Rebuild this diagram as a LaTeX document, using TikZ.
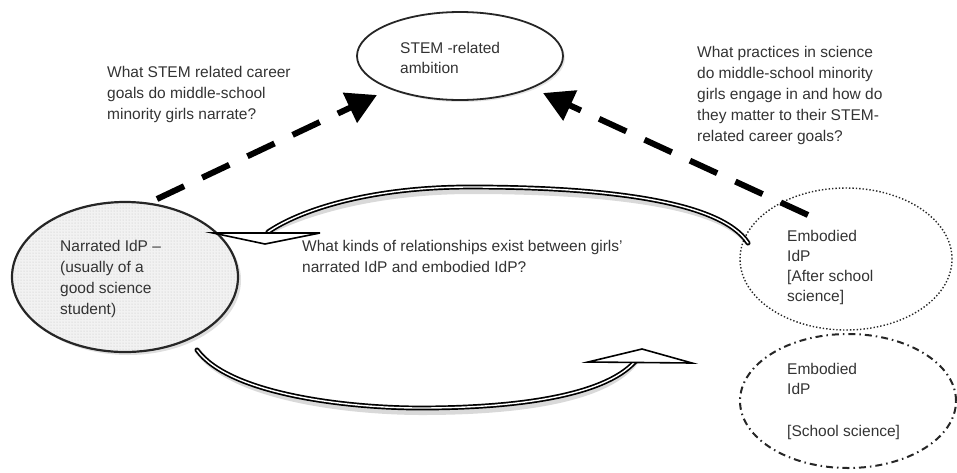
\documentclass[tikz,border=0pt]{standalone}
\usepackage{fontspec}
\setmainfont{Liberation Sans}
\usetikzlibrary{arrows.meta,patterns,shadows,shapes.geometric}
\begin{document}
\begin{tikzpicture}[x=1pt,y=-1pt,
  txt/.style={font=\fontsize{15.5}{21}\selectfont, align=left, inner sep=0pt, anchor=north west, text=black!80},
  txtb/.style={txt, font=\fontsize{15.5}{20}\selectfont},
  ell/.style={ellipse, draw=black!85, inner sep=0pt},
  dasharrow/.style={line width=6pt, dash pattern=on 30pt off 20pt, -{Triangle[length=30pt,width=32pt]}},
  hollow/.style={draw=black, line width=1.7pt, double=white, double distance=1.4pt, line cap=round},
  shadowline/.style={draw=black, opacity=0.15, line width=6pt, line cap=round},
  headshape/.style={draw=black, line width=1.6pt, fill=white, line join=miter}
]
\useasboundingbox (0,0) rectangle (957,472);

% ellipses
\node[ell, line width=1.8pt, minimum width=206pt, minimum height=88pt,
      drop shadow={opacity=0.2, shadow xshift=2pt, shadow yshift=-2pt}, fill=white] (stem) at (460,56) {};
\node[ell, line width=2.2pt, minimum width=226pt, minimum height=150pt,
      drop shadow={opacity=0.25, shadow xshift=3pt, shadow yshift=-3pt},
      preaction={fill=gray!10}, pattern=dots, pattern color=gray!50] (narr) at (125,277) {};
\node[ell, line width=1.4pt, dotted, minimum width=212pt, minimum height=142pt] (aft) at (846,259) {};
\node[ell, line width=2pt, dash pattern=on 7pt off 4pt on 1.5pt off 4pt, minimum width=216pt, minimum height=134pt] (sch) at (848,401) {};

% texts
\node[txt] (stemtxt) at (400,42) {STEM -related\\[-1pt]ambition};
\node[txt] (narrtxt) at (60,240) {Narrated IdP –\\(usually of a\\good science\\student)};
\node[txtb] (afttxt) at (787,230) {Embodied\\IdP\\{[}After school\\science{]}};
\node[txtb] (schtxt) at (787,363) {Embodied\\IdP\\[22pt]{[}School science{]}};
\node[txt] (q1) at (107,66) {What STEM related career\\goals do middle-school\\minority girls narrate?};
\node[txt] (q2) at (697,46) {What practices in science\\do middle-school minority\\girls engage in and how do\\they matter to their STEM-\\related career goals?};
\node[txt] (q3) at (302,240) {What kinds of relationships exist between girls'\\narrated IdP and embodied IdP?};

% dashed arrows
\coordinate (l1) at (157,199);
\coordinate (l1t) at (377,95);
\coordinate (r1) at (808,215);
\coordinate (r1t) at (543,93);
\draw[dasharrow] (l1) -- (l1t);
\draw[dasharrow] (r1) -- (r1t);

% curved arrows between narrated and embodied
\coordinate (ta) at (748,243);
\coordinate (tb) at (268,232);
\coordinate (ba) at (197,350);
\coordinate (bb) at (638,358);
\draw[shadowline, shift={(2,4)}] (ta) .. controls (720,200) and (600,187) .. (470,187) .. controls (370,187) and (300,210) .. (tb);
\draw[shadowline, shift={(2,4)}] (ba) .. controls (230,395) and (350,408) .. (420,408) .. controls (520,408) and (610,395) .. (bb);
\draw[hollow] (ta) .. controls (720,200) and (600,187) .. (470,187) .. controls (370,187) and (300,210) .. (tb);
\draw[hollow] (ba) .. controls (230,395) and (350,408) .. (420,408) .. controls (520,408) and (610,395) .. (bb);
\draw[headshape] (213,233) -- (320,233) -- (265,244) -- cycle;
\draw[headshape] (588,362) -- (642,349) -- (692,363) -- cycle;
\end{tikzpicture}
\end{document}
